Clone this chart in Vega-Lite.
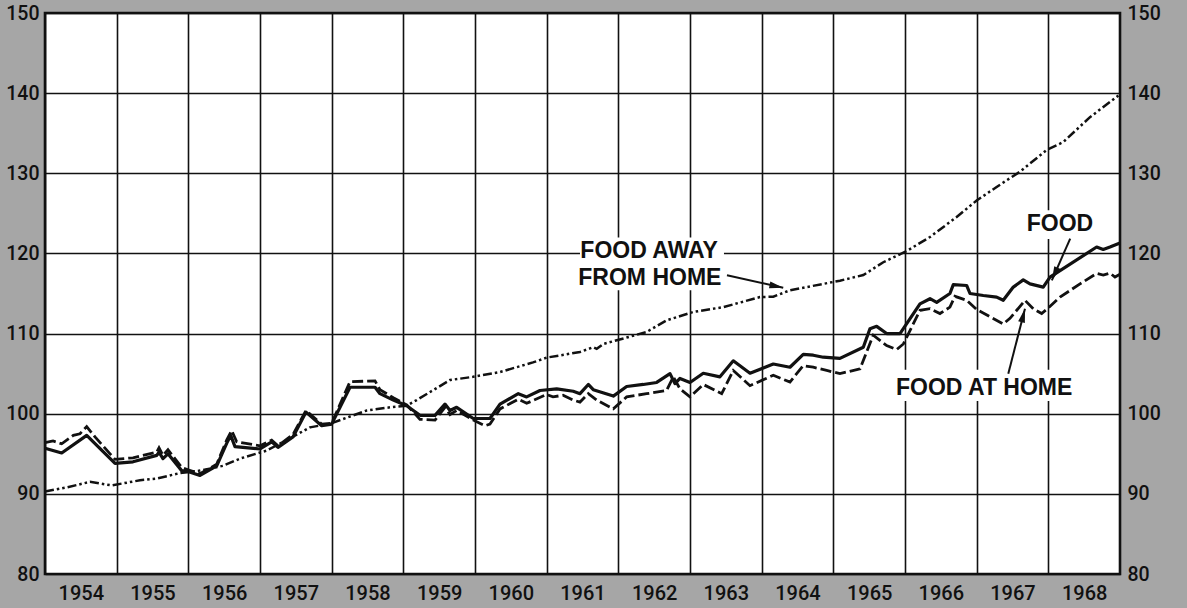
{
  "$schema": "https://vega.github.io/schema/vega-lite/v6.json",
  "width": 1075,
  "height": 561,
  "autosize": {"type": "none"},
  "padding": {"left": 45, "top": 13, "right": 67, "bottom": 34},
  "background": "#a6a6a6",
  "config": {
    "view": {"fill": "white", "stroke": "#111111", "strokeWidth": 2.6},
    "font": "Liberation Sans",
    "axis": {
      "gridColor": "#111111", "gridOpacity": 1, "gridWidth": 1.6,
      "ticks": false, "domain": false, "labelColor": "#111111",
      "labelFont": "Roboto", "labelFontWeight": 500,
      "labelFlush": false, "labelOverlap": false, "labelBound": false
    }
  },
  "datasets": {
    "series": [
      {"series": "food", "year": 1954.0, "index": 95.7},
      {"series": "food", "year": 1954.233, "index": 95.1},
      {"series": "food", "year": 1954.582, "index": 97.3},
      {"series": "food", "year": 1954.977, "index": 93.8},
      {"series": "food", "year": 1955.228, "index": 94.0},
      {"series": "food", "year": 1955.559, "index": 94.8},
      {"series": "food", "year": 1955.591, "index": 95.2},
      {"series": "food", "year": 1955.646, "index": 94.4},
      {"series": "food", "year": 1955.716, "index": 95.0},
      {"series": "food", "year": 1955.907, "index": 92.9},
      {"series": "food", "year": 1955.995, "index": 92.8},
      {"series": "food", "year": 1956.163, "index": 92.3},
      {"series": "food", "year": 1956.396, "index": 93.5},
      {"series": "food", "year": 1956.535, "index": 96.3},
      {"series": "food", "year": 1956.591, "index": 97.3},
      {"series": "food", "year": 1956.651, "index": 95.9},
      {"series": "food", "year": 1957.0, "index": 95.6},
      {"series": "food", "year": 1957.163, "index": 96.5},
      {"series": "food", "year": 1957.251, "index": 95.8},
      {"series": "food", "year": 1957.46, "index": 97.1},
      {"series": "food", "year": 1957.642, "index": 100.2},
      {"series": "food", "year": 1957.861, "index": 98.5},
      {"series": "food", "year": 1958.0, "index": 98.7},
      {"series": "food", "year": 1958.256, "index": 103.3},
      {"series": "food", "year": 1958.605, "index": 103.3},
      {"series": "food", "year": 1958.674, "index": 102.5},
      {"series": "food", "year": 1958.86, "index": 101.7},
      {"series": "food", "year": 1959.047, "index": 101.0},
      {"series": "food", "year": 1959.232, "index": 99.8},
      {"series": "food", "year": 1959.442, "index": 99.8},
      {"series": "food", "year": 1959.581, "index": 101.2},
      {"series": "food", "year": 1959.651, "index": 100.4},
      {"series": "food", "year": 1959.744, "index": 100.8},
      {"series": "food", "year": 1959.976, "index": 99.4},
      {"series": "food", "year": 1960.209, "index": 99.4},
      {"series": "food", "year": 1960.349, "index": 101.2},
      {"series": "food", "year": 1960.604, "index": 102.5},
      {"series": "food", "year": 1960.721, "index": 102.1},
      {"series": "food", "year": 1960.907, "index": 102.9},
      {"series": "food", "year": 1961.14, "index": 103.1},
      {"series": "food", "year": 1961.371, "index": 102.8},
      {"series": "food", "year": 1961.465, "index": 102.5},
      {"series": "food", "year": 1961.581, "index": 103.65},
      {"series": "food", "year": 1961.65, "index": 103.0},
      {"series": "food", "year": 1961.93, "index": 102.2},
      {"series": "food", "year": 1962.116, "index": 103.4},
      {"series": "food", "year": 1962.348, "index": 103.65},
      {"series": "food", "year": 1962.535, "index": 103.9},
      {"series": "food", "year": 1962.721, "index": 105.0},
      {"series": "food", "year": 1962.79, "index": 103.75},
      {"series": "food", "year": 1962.86, "index": 104.4},
      {"series": "food", "year": 1963.0, "index": 103.9},
      {"series": "food", "year": 1963.185, "index": 105.05},
      {"series": "food", "year": 1963.418, "index": 104.6},
      {"series": "food", "year": 1963.604, "index": 106.6},
      {"series": "food", "year": 1963.837, "index": 105.05},
      {"series": "food", "year": 1964.162, "index": 106.2},
      {"series": "food", "year": 1964.395, "index": 105.8},
      {"series": "food", "year": 1964.58, "index": 107.4},
      {"series": "food", "year": 1964.72, "index": 107.3},
      {"series": "food", "year": 1964.859, "index": 107.05},
      {"series": "food", "year": 1965.092, "index": 106.9},
      {"series": "food", "year": 1965.418, "index": 108.3},
      {"series": "food", "year": 1965.511, "index": 110.6},
      {"series": "food", "year": 1965.605, "index": 110.9},
      {"series": "food", "year": 1965.744, "index": 110.0},
      {"series": "food", "year": 1965.93, "index": 110.0},
      {"series": "food", "year": 1966.209, "index": 113.7},
      {"series": "food", "year": 1966.349, "index": 114.35},
      {"series": "food", "year": 1966.442, "index": 113.9},
      {"series": "food", "year": 1966.627, "index": 115.0},
      {"series": "food", "year": 1966.674, "index": 116.1},
      {"series": "food", "year": 1966.86, "index": 116.0},
      {"series": "food", "year": 1966.907, "index": 115.0},
      {"series": "food", "year": 1967.093, "index": 114.75},
      {"series": "food", "year": 1967.279, "index": 114.55},
      {"series": "food", "year": 1967.371, "index": 114.15},
      {"series": "food", "year": 1967.511, "index": 115.8},
      {"series": "food", "year": 1967.65, "index": 116.7},
      {"series": "food", "year": 1967.744, "index": 116.2},
      {"series": "food", "year": 1967.929, "index": 115.8},
      {"series": "food", "year": 1968.023, "index": 117.05},
      {"series": "food", "year": 1968.674, "index": 120.8},
      {"series": "food", "year": 1968.766, "index": 120.5},
      {"series": "food", "year": 1968.86, "index": 120.8},
      {"series": "food", "year": 1969.0, "index": 121.3},

      {"series": "home", "year": 1954.0, "index": 96.4},
      {"series": "home", "year": 1954.112, "index": 96.6},
      {"series": "home", "year": 1954.233, "index": 96.25},
      {"series": "home", "year": 1954.395, "index": 97.3},
      {"series": "home", "year": 1954.488, "index": 97.5},
      {"series": "home", "year": 1954.582, "index": 98.4},
      {"series": "home", "year": 1954.698, "index": 97.1},
      {"series": "home", "year": 1954.977, "index": 94.3},
      {"series": "home", "year": 1955.228, "index": 94.5},
      {"series": "home", "year": 1955.559, "index": 95.2},
      {"series": "home", "year": 1955.591, "index": 95.75},
      {"series": "home", "year": 1955.646, "index": 94.8},
      {"series": "home", "year": 1955.716, "index": 95.5},
      {"series": "home", "year": 1955.907, "index": 93.3},
      {"series": "home", "year": 1955.995, "index": 93.0},
      {"series": "home", "year": 1956.163, "index": 92.5},
      {"series": "home", "year": 1956.396, "index": 93.7},
      {"series": "home", "year": 1956.535, "index": 96.7},
      {"series": "home", "year": 1956.605, "index": 97.9},
      {"series": "home", "year": 1956.675, "index": 96.5},
      {"series": "home", "year": 1957.0, "index": 96.0},
      {"series": "home", "year": 1957.163, "index": 96.7},
      {"series": "home", "year": 1957.251, "index": 96.0},
      {"series": "home", "year": 1957.46, "index": 97.4},
      {"series": "home", "year": 1957.642, "index": 100.4},
      {"series": "home", "year": 1957.861, "index": 98.7},
      {"series": "home", "year": 1958.0, "index": 98.8},
      {"series": "home", "year": 1958.256, "index": 104.0},
      {"series": "home", "year": 1958.605, "index": 104.1},
      {"series": "home", "year": 1958.674, "index": 103.0},
      {"series": "home", "year": 1958.86, "index": 102.0},
      {"series": "home", "year": 1959.047, "index": 101.1},
      {"series": "home", "year": 1959.232, "index": 99.3},
      {"series": "home", "year": 1959.442, "index": 99.2},
      {"series": "home", "year": 1959.581, "index": 100.8},
      {"series": "home", "year": 1959.651, "index": 99.9},
      {"series": "home", "year": 1959.744, "index": 100.4},
      {"series": "home", "year": 1959.976, "index": 99.2},
      {"series": "home", "year": 1960.14, "index": 98.5},
      {"series": "home", "year": 1960.209, "index": 98.7},
      {"series": "home", "year": 1960.349, "index": 100.6},
      {"series": "home", "year": 1960.604, "index": 101.8},
      {"series": "home", "year": 1960.721, "index": 101.3},
      {"series": "home", "year": 1961.0, "index": 102.4},
      {"series": "home", "year": 1961.088, "index": 102.1},
      {"series": "home", "year": 1961.228, "index": 102.3},
      {"series": "home", "year": 1961.371, "index": 101.7},
      {"series": "home", "year": 1961.465, "index": 101.45},
      {"series": "home", "year": 1961.581, "index": 102.5},
      {"series": "home", "year": 1961.698, "index": 101.7},
      {"series": "home", "year": 1961.93, "index": 100.6},
      {"series": "home", "year": 1962.116, "index": 102.1},
      {"series": "home", "year": 1962.395, "index": 102.5},
      {"series": "home", "year": 1962.674, "index": 102.9},
      {"series": "home", "year": 1962.767, "index": 104.6},
      {"series": "home", "year": 1962.86, "index": 103.1},
      {"series": "home", "year": 1963.0, "index": 102.1},
      {"series": "home", "year": 1963.185, "index": 103.65},
      {"series": "home", "year": 1963.442, "index": 102.5},
      {"series": "home", "year": 1963.604, "index": 105.4},
      {"series": "home", "year": 1963.837, "index": 103.5},
      {"series": "home", "year": 1964.162, "index": 104.8},
      {"series": "home", "year": 1964.395, "index": 103.95},
      {"series": "home", "year": 1964.58, "index": 106.0},
      {"series": "home", "year": 1964.72, "index": 105.8},
      {"series": "home", "year": 1964.907, "index": 105.4},
      {"series": "home", "year": 1965.092, "index": 105.0},
      {"series": "home", "year": 1965.372, "index": 105.6},
      {"series": "home", "year": 1965.557, "index": 109.8},
      {"series": "home", "year": 1965.744, "index": 108.5},
      {"series": "home", "year": 1965.884, "index": 108.0},
      {"series": "home", "year": 1965.977, "index": 108.7},
      {"series": "home", "year": 1966.209, "index": 112.9},
      {"series": "home", "year": 1966.349, "index": 113.1},
      {"series": "home", "year": 1966.488, "index": 112.5},
      {"series": "home", "year": 1966.627, "index": 113.3},
      {"series": "home", "year": 1966.697, "index": 114.65},
      {"series": "home", "year": 1966.86, "index": 114.15},
      {"series": "home", "year": 1967.0, "index": 113.0},
      {"series": "home", "year": 1967.371, "index": 111.2},
      {"series": "home", "year": 1967.465, "index": 111.9},
      {"series": "home", "year": 1967.674, "index": 114.15},
      {"series": "home", "year": 1967.79, "index": 113.1},
      {"series": "home", "year": 1967.907, "index": 112.5},
      {"series": "home", "year": 1968.0, "index": 113.2},
      {"series": "home", "year": 1968.163, "index": 114.55},
      {"series": "home", "year": 1968.442, "index": 116.2},
      {"series": "home", "year": 1968.674, "index": 117.5},
      {"series": "home", "year": 1968.766, "index": 117.3},
      {"series": "home", "year": 1968.86, "index": 117.55},
      {"series": "home", "year": 1968.93, "index": 117.05},
      {"series": "home", "year": 1969.0, "index": 117.4},

      {"series": "away", "year": 1954.0, "index": 90.3},
      {"series": "away", "year": 1954.303, "index": 90.8},
      {"series": "away", "year": 1954.628, "index": 91.5},
      {"series": "away", "year": 1954.931, "index": 91.05},
      {"series": "away", "year": 1955.326, "index": 91.7},
      {"series": "away", "year": 1955.559, "index": 91.9},
      {"series": "away", "year": 1955.884, "index": 92.6},
      {"series": "away", "year": 1956.163, "index": 92.9},
      {"series": "away", "year": 1956.484, "index": 93.5},
      {"series": "away", "year": 1956.721, "index": 94.4},
      {"series": "away", "year": 1957.093, "index": 95.4},
      {"series": "away", "year": 1957.372, "index": 96.7},
      {"series": "away", "year": 1957.698, "index": 98.3},
      {"series": "away", "year": 1957.977, "index": 98.75},
      {"series": "away", "year": 1958.489, "index": 100.4},
      {"series": "away", "year": 1958.814, "index": 100.8},
      {"series": "away", "year": 1959.047, "index": 101.0},
      {"series": "away", "year": 1959.186, "index": 101.7},
      {"series": "away", "year": 1959.651, "index": 104.2},
      {"series": "away", "year": 1959.972, "index": 104.6},
      {"series": "away", "year": 1960.349, "index": 105.2},
      {"series": "away", "year": 1960.809, "index": 106.4},
      {"series": "away", "year": 1961.0, "index": 107.0},
      {"series": "away", "year": 1961.465, "index": 107.7},
      {"series": "away", "year": 1961.651, "index": 108.3},
      {"series": "away", "year": 1961.698, "index": 108.1},
      {"series": "away", "year": 1961.79, "index": 108.7},
      {"series": "away", "year": 1962.116, "index": 109.5},
      {"series": "away", "year": 1962.395, "index": 110.2},
      {"series": "away", "year": 1962.674, "index": 111.65},
      {"series": "away", "year": 1963.046, "index": 112.7},
      {"series": "away", "year": 1963.464, "index": 113.3},
      {"series": "away", "year": 1963.976, "index": 114.55},
      {"series": "away", "year": 1964.162, "index": 114.6},
      {"series": "away", "year": 1964.395, "index": 115.4},
      {"series": "away", "year": 1965.092, "index": 116.6},
      {"series": "away", "year": 1965.418, "index": 117.3},
      {"series": "away", "year": 1965.697, "index": 118.9},
      {"series": "away", "year": 1966.023, "index": 120.3},
      {"series": "away", "year": 1966.349, "index": 122.05},
      {"series": "away", "year": 1966.721, "index": 124.55},
      {"series": "away", "year": 1967.0, "index": 126.6},
      {"series": "away", "year": 1967.279, "index": 128.3},
      {"series": "away", "year": 1967.604, "index": 130.2},
      {"series": "away", "year": 1967.976, "index": 132.9},
      {"series": "away", "year": 1968.209, "index": 133.9},
      {"series": "away", "year": 1968.581, "index": 137.0},
      {"series": "away", "year": 1968.977, "index": 139.7}
    ],
    "masks": [
      {"name": "away", "year": 1961.465, "year_end": 1963.474, "index": 115.4, "index_end": 122.0},
      {"name": "food", "year": 1967.69, "year_end": 1968.64, "index": 121.8, "index_end": 125.4},
      {"name": "home", "year": 1965.78, "year_end": 1968.42, "index": 101.6, "index_end": 105.5}
    ],
    "labels": [
      {"text": "FOOD AWAY", "year": 1962.43, "index": 120.32},
      {"text": "FROM HOME", "year": 1962.44, "index": 116.99},
      {"text": "FOOD", "year": 1968.162, "index": 123.72},
      {"text": "FOOD AT HOME", "year": 1967.105, "index": 103.23}
    ],
    "arrows": [
      {"name": "away", "year": 1963.516, "index": 117.27, "year_end": 1964.301, "index_end": 115.73},
      {"name": "food", "year": 1968.305, "index": 121.85, "year_end": 1968.049, "index_end": 116.64},
      {"name": "home", "year": 1967.441, "index": 104.99, "year_end": 1967.674, "index_end": 113.11}
    ]
  },
  "encoding": {
    "x": {
      "field": "year", "type": "quantitative",
      "scale": {"domain": [1954, 1969], "nice": false, "zero": false},
      "axis": {
        "values": [1954, 1955, 1956, 1957, 1958, 1959, 1960, 1961, 1962, 1963, 1964, 1965, 1966, 1967, 1968],
        "grid": true, "title": null, "labelOffset": 35.8, "labelFontSize": 20, "labelPadding": 9,
        "labelExpr": "format(datum.value, 'd')"
      }
    },
    "y": {
      "field": "index", "type": "quantitative",
      "scale": {"domain": [80, 150], "nice": false, "zero": false},
      "axis": null
    }
  },
  "layer": [
    {
      "data": {"name": "masks"},
      "mark": {"type": "rect", "fill": "white"},
      "encoding": {
        "y": {
          "field": "index", "type": "quantitative",
          "scale": {"domain": [80, 150], "nice": false, "zero": false},
          "axis": {
            "orient": "left", "values": [80, 90, 100, 110, 120, 130, 140, 150],
            "grid": true, "title": null, "labelFontSize": 19.5, "labelPadding": 6
          }
        },
        "x2": {"field": "year_end"},
        "y2": {"field": "index_end"}
      }
    },
    {
      "data": {"name": "series"},
      "transform": [{"filter": "datum.series === 'away'"}],
      "mark": {"type": "line", "stroke": "#111111", "strokeWidth": 2.5, "strokeDash": [9, 3, 2.5, 3, 2.5, 3]},
      "encoding": {
        "y": {
          "field": "index", "type": "quantitative",
          "scale": {"domain": [80, 150], "nice": false, "zero": false},
          "axis": {
            "orient": "right", "values": [80, 90, 100, 110, 120, 130, 140, 150],
            "grid": false, "title": null, "labelFontSize": 19.5, "labelPadding": 7
          }
        }
      }
    },
    {
      "data": {"name": "series"},
      "transform": [{"filter": "datum.series === 'home'"}],
      "mark": {"type": "line", "stroke": "#111111", "strokeWidth": 2.8, "strokeDash": [11, 4]}
    },
    {
      "data": {"name": "series"},
      "transform": [{"filter": "datum.series === 'food'"}],
      "mark": {"type": "line", "stroke": "#111111", "strokeWidth": 3.2, "strokeJoin": "round"}
    },
    {
      "data": {"name": "labels"},
      "mark": {"type": "text", "fontSize": 23, "fontWeight": "bold", "color": "#111111", "align": "center", "baseline": "middle"},
      "encoding": {
        "text": {"field": "text"}
      }
    },
    {
      "data": {"name": "arrows"},
      "mark": {"type": "rule", "stroke": "#111111", "strokeWidth": 2},
      "encoding": {
        "x2": {"field": "year_end"},
        "y2": {"field": "index_end"}
      }
    },
    {
      "data": {"name": "arrows"},
      "transform": [{"filter": "datum.name === 'away'"}],
      "mark": {"type": "point", "shape": "M0,0L0.4,1.6L-0.4,1.6Z", "filled": true, "color": "#111111", "size": 300, "angle": 101.3, "opacity": 1},
      "encoding": {
        "x": {"field": "year_end", "type": "quantitative"},
        "y": {"field": "index_end", "type": "quantitative", "axis": null}
      }
    },
    {
      "data": {"name": "arrows"},
      "transform": [{"filter": "datum.name === 'food'"}],
      "mark": {"type": "point", "shape": "M0,0L0.4,1.6L-0.4,1.6Z", "filled": true, "color": "#111111", "size": 300, "angle": 203.8, "opacity": 1},
      "encoding": {
        "x": {"field": "year_end", "type": "quantitative"},
        "y": {"field": "index_end", "type": "quantitative", "axis": null}
      }
    },
    {
      "data": {"name": "arrows"},
      "transform": [{"filter": "datum.name === 'home'"}],
      "mark": {"type": "point", "shape": "M0,0L0.4,1.6L-0.4,1.6Z", "filled": true, "color": "#111111", "size": 300, "angle": 14.4, "opacity": 1},
      "encoding": {
        "x": {"field": "year_end", "type": "quantitative"},
        "y": {"field": "index_end", "type": "quantitative", "axis": null}
      }
    }
  ],
  "resolve": {"axis": {"y": "independent"}}
}
